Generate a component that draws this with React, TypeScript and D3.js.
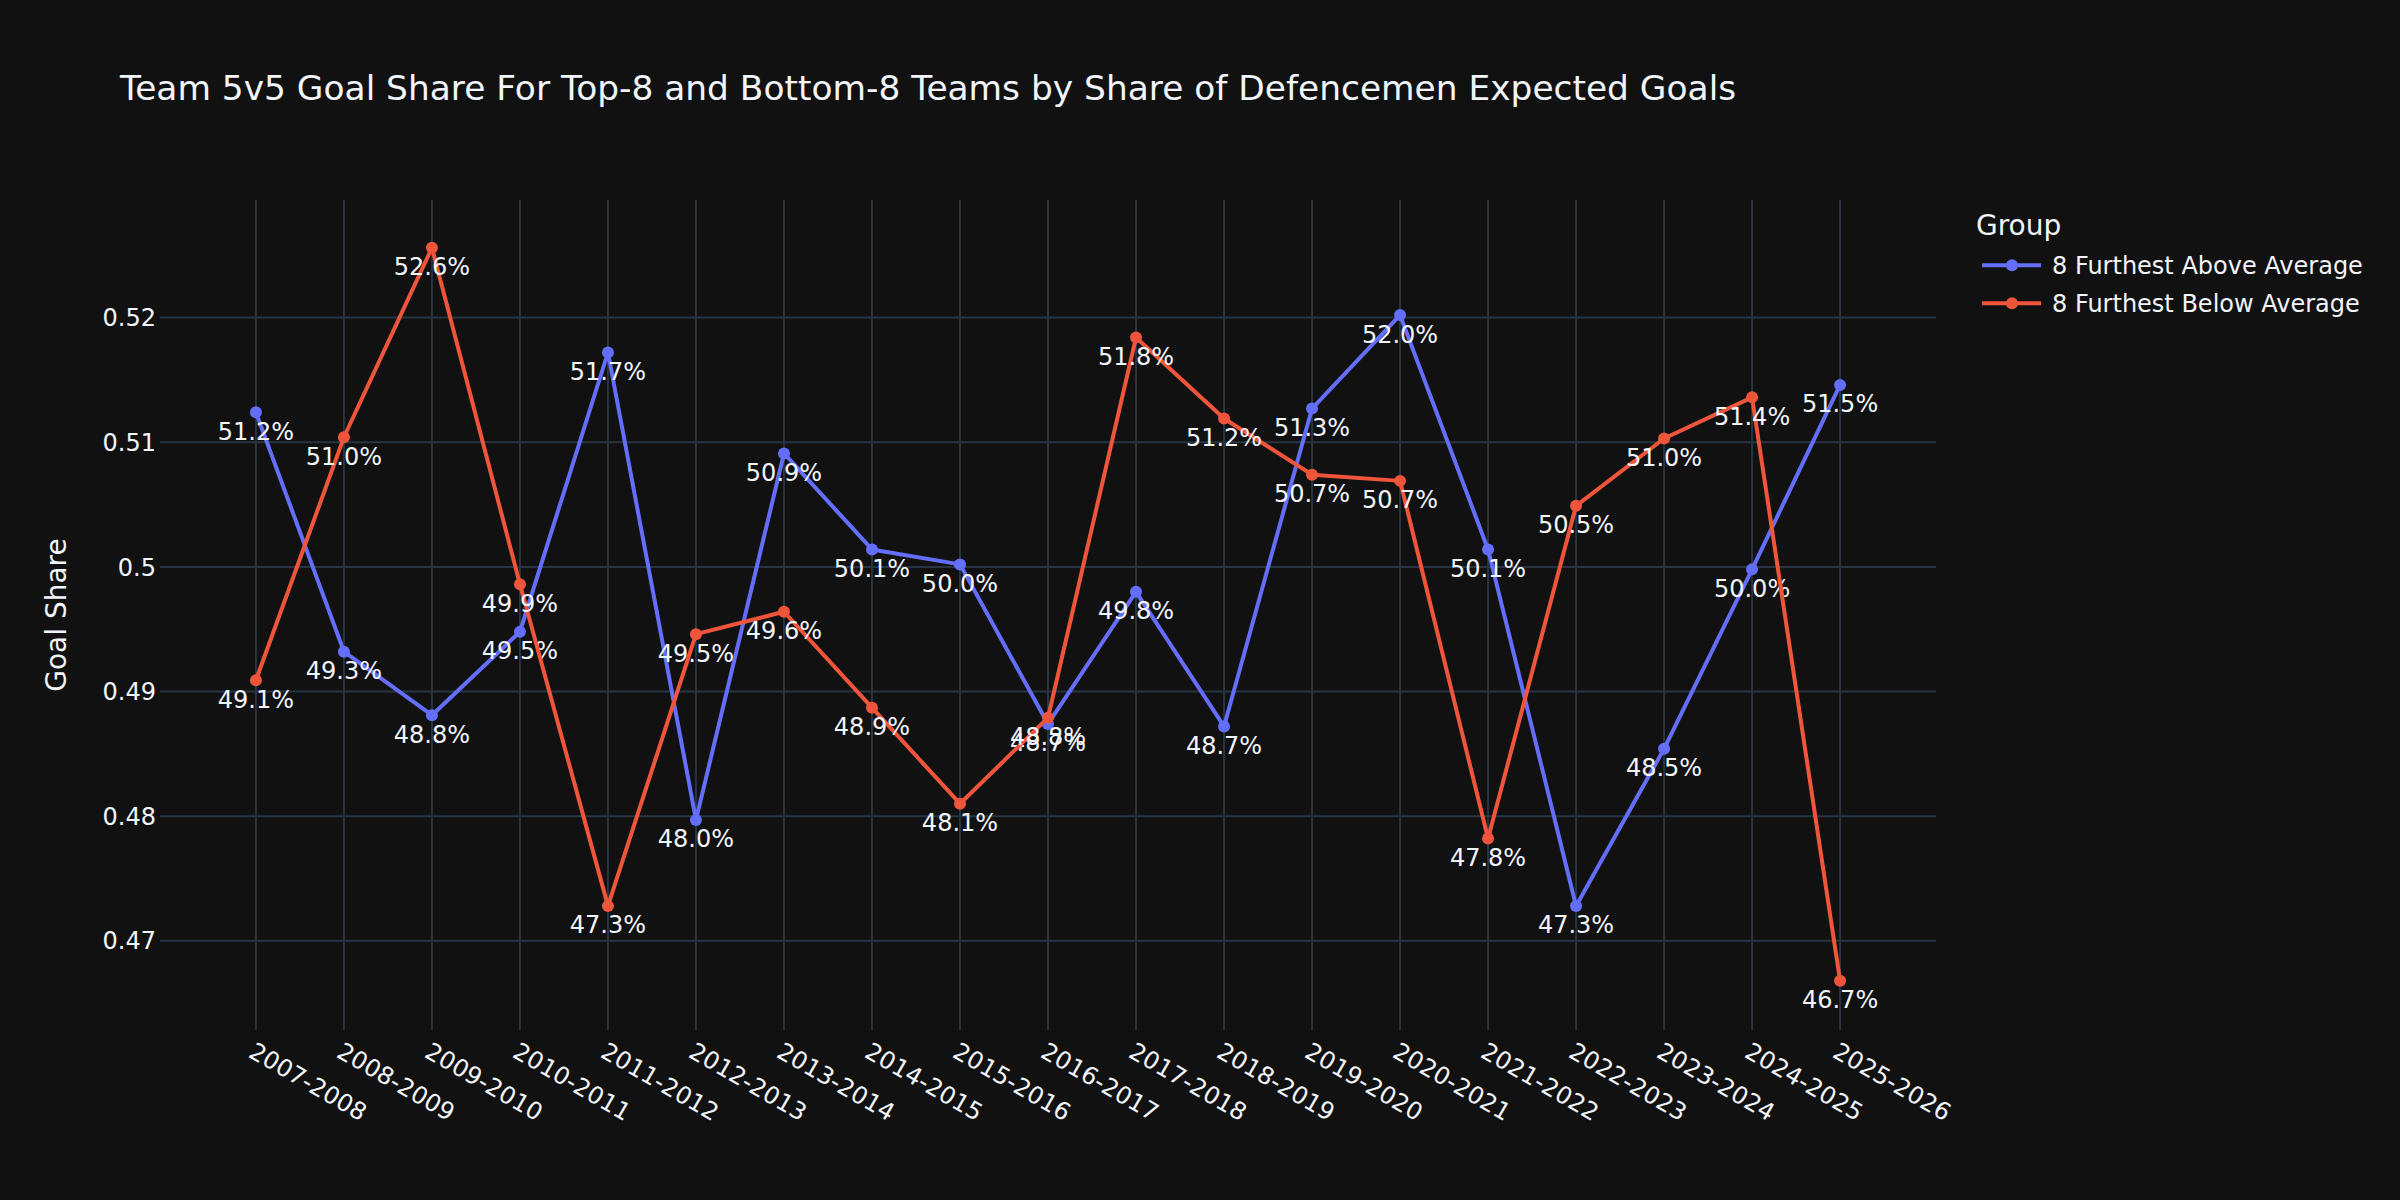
import React, { useEffect, useRef } from 'react';
import * as d3 from 'd3';

const seasons = [
  '2007-2008', '2008-2009', '2009-2010', '2010-2011', '2011-2012', '2012-2013', '2013-2014',
  '2014-2015', '2015-2016', '2016-2017', '2017-2018', '2018-2019', '2019-2020', '2020-2021',
  '2021-2022', '2022-2023', '2023-2024', '2024-2025', '2025-2026'
];

// 8 Furthest Above Average
const aboveValues = [
  0.5124, 0.4932, 0.4881, 0.4948, 0.5172, 0.4797, 0.5091, 0.5014, 0.5002, 0.4874,
  0.498, 0.4872, 0.5127, 0.5202, 0.5014, 0.4728, 0.4854, 0.4998, 0.5146
];

// 8 Furthest Below Average
const belowValues = [
  0.4909, 0.5104, 0.5256, 0.4986, 0.4728, 0.4946, 0.4964, 0.4887, 0.481, 0.4879,
  0.5184, 0.5119, 0.5074, 0.5069, 0.4782, 0.5049, 0.5103, 0.5136, 0.4668
];

const seriesNames = ['8 Furthest Above Average', '8 Furthest Below Average'];
const seriesColors = ['#636efa', '#EF553B'];

const yTicks = [0.47, 0.48, 0.49, 0.5, 0.51, 0.52];

const W = 2400;
const H = 1200;
const BG = '#111111';
const GRID = '#283442';
const TEXT = '#f2f5fa';
const FONT = '"DejaVu Sans", Verdana, sans-serif';

const plot = { left: 160, right: 1936, top: 200, bottom: 1030 };

const App = () => {
  const rootRef = useRef<SVGSVGElement>(null);

  useEffect(() => {
    const svg = d3.select(rootRef.current).attr('width', W).attr('height', H);
    svg.selectAll('*').remove();

    svg.append('rect').attr('width', W).attr('height', H).attr('fill', BG);

    const x = d3.scalePoint<string>().domain(seasons).range([plot.left, plot.right]).padding(1.09);
    const y = d3.scaleLinear().domain([0.47, 0.52]).range([940.8, 317.6]);

    // grid
    const grid = svg.append('g');
    grid
      .selectAll('.vgrid')
      .data(seasons)
      .enter()
      .append('line')
      .attr('x1', (d) => x(d)!)
      .attr('x2', (d) => x(d)!)
      .attr('y1', plot.top)
      .attr('y2', plot.bottom)
      .attr('stroke', GRID)
      .attr('stroke-width', 2);
    grid
      .selectAll('.hgrid')
      .data(yTicks)
      .enter()
      .append('line')
      .attr('x1', plot.left)
      .attr('x2', plot.right)
      .attr('y1', (d) => y(d))
      .attr('y2', (d) => y(d))
      .attr('stroke', GRID)
      .attr('stroke-width', 2);

    // y tick labels
    svg
      .append('g')
      .selectAll('text')
      .data(yTicks)
      .enter()
      .append('text')
      .attr('x', plot.left - 4)
      .attr('y', (d) => y(d))
      .attr('dy', '0.36em')
      .attr('text-anchor', 'end')
      .attr('fill', TEXT)
      .attr('font-family', FONT)
      .attr('font-size', 24)
      .text((d) => d3.format('~g')(d));

    // x tick labels (rotated 30deg)
    svg
      .append('g')
      .selectAll('text')
      .data(seasons)
      .enter()
      .append('text')
      .attr('transform', (d) => `translate(${x(d)},${plot.bottom + 11}) rotate(30)`)
      .attr('y', 17.5)
      .attr('text-anchor', 'start')
      .attr('fill', TEXT)
      .attr('font-family', FONT)
      .attr('font-size', 24)
      .text((d) => d);

    // axis title
    svg
      .append('text')
      .attr('transform', `translate(66,${(plot.top + plot.bottom) / 2}) rotate(-90)`)
      .attr('text-anchor', 'middle')
      .attr('fill', TEXT)
      .attr('font-family', FONT)
      .attr('font-size', 28)
      .text('Goal Share');

    // chart title
    svg
      .append('text')
      .attr('x', 120)
      .attr('y', 100)
      .attr('fill', TEXT)
      .attr('font-family', FONT)
      .attr('font-size', 34.4)
      .text('Team 5v5 Goal Share For Top-8 and Bottom-8 Teams by Share of Defencemen Expected Goals');

    const line = d3
      .line<number>()
      .x((_, i) => x(seasons[i])!)
      .y((d) => y(d));

    const pct = d3.format('.1%');

    [aboveValues, belowValues].forEach((values, k) => {
      const g = svg.append('g');
      g.append('path')
        .attr('d', line(values))
        .attr('fill', 'none')
        .attr('stroke', seriesColors[k])
        .attr('stroke-width', 4)
        .attr('stroke-linejoin', 'round');
      g.selectAll('circle')
        .data(values)
        .enter()
        .append('circle')
        .attr('cx', (_, i) => x(seasons[i])!)
        .attr('cy', (d) => y(d))
        .attr('r', 6)
        .attr('fill', seriesColors[k]);
      g.selectAll('text')
        .data(values)
        .enter()
        .append('text')
        .attr('x', (_, i) => x(seasons[i])!)
        .attr('y', (d) => y(d) + 27.5)
        .attr('text-anchor', 'middle')
        .attr('fill', TEXT)
        .attr('font-family', FONT)
        .attr('font-size', 24)
        .text((d) => pct(d));
    });

    // legend
    const legend = svg.append('g').attr('transform', 'translate(1976,0)');
    legend
      .append('text')
      .attr('x', 0)
      .attr('y', 235)
      .attr('fill', TEXT)
      .attr('font-family', FONT)
      .attr('font-size', 28)
      .text('Group');
    const items = legend
      .selectAll('.item')
      .data(seriesNames)
      .enter()
      .append('g')
      .attr('transform', (_, i) => `translate(0,${265.3 + i * 38})`);
    items
      .append('line')
      .attr('x1', 6)
      .attr('x2', 65)
      .attr('stroke', (_, i) => seriesColors[i])
      .attr('stroke-width', 4);
    items
      .append('circle')
      .attr('cx', 36)
      .attr('r', 6)
      .attr('fill', (_, i) => seriesColors[i]);
    items
      .append('text')
      .attr('x', 76)
      .attr('y', 0)
      .attr('dy', '0.36em')
      .attr('fill', TEXT)
      .attr('font-family', FONT)
      .attr('font-size', 24)
      .text((d) => d);
  }, []);

  return (
    <div style={{ position: 'absolute', left: 0, top: 0, fontSize: 0, background: BG }}>
      <svg ref={rootRef}></svg>
    </div>
  );
};

export default App;
